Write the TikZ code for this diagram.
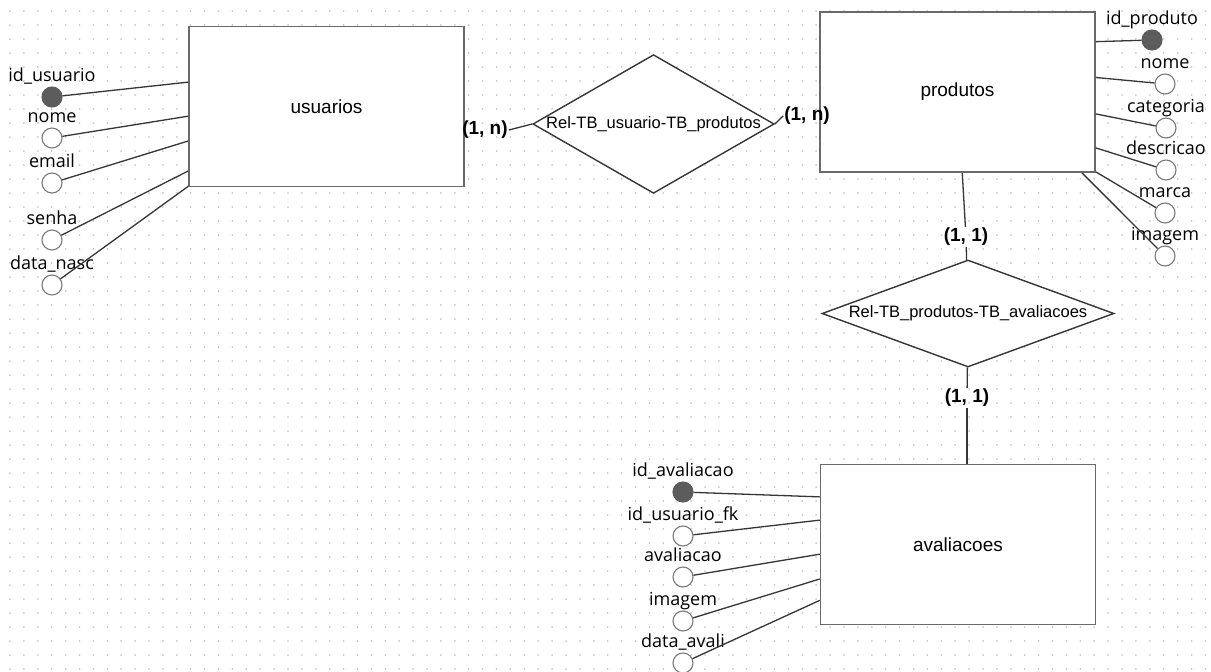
\documentclass[tikz,border=0pt]{standalone}
\usepackage{fontspec}
\setmainfont{Liberation Sans}
\newfontfamily\attrfont{Open Sans}
\usetikzlibrary{shapes.geometric}

\definecolor{boxgray}{HTML}{6A6A6A}
\definecolor{linegray}{HTML}{363636}
\definecolor{circgray}{HTML}{7A7A7A}
\definecolor{keygray}{HTML}{5C5C5C}
\definecolor{dotgray}{HTML}{C8C8C8}

\begin{document}
\begin{tikzpicture}[x=1pt,y=-1pt]
        \tikzstyle{entity} = [draw=boxgray, line width=1.6pt, fill=white, minimum width=275, minimum height=160, inner sep=0, font=\fontsize{19}{22}\selectfont]
        \tikzstyle{relation} = [diamond, draw=linegray, line width=1.4pt, fill=white, inner sep=0, font=\fontsize{16.5}{19}\selectfont]
        \tikzstyle{card} = [inner sep=1, font=\bfseries\fontsize{19}{22}\selectfont]
        \tikzstyle{attr} = [circle, draw=circgray, line width=1.1pt, fill=white, minimum size=20, inner sep=0]
        \tikzstyle{pkattr} = [attr, fill=keygray, draw=keygray]
        \tikzstyle{attrlabel} = [font=\attrfont\fontsize{18}{21}\selectfont, inner sep=0, text height=12, text depth=4, label distance=0.5]
        \tikzstyle{conn} = [draw=linegray, line width=1.3pt]
        \tikzstyle{griddot} = [draw=dotgray, line width=2pt, line cap=round, dash pattern=on 0pt off 13.9pt]

        \useasboundingbox (0,0) rectangle (1211,672);
        \fill[white] (0,0) rectangle (1211,672);
        \foreach \gy in {0,...,47}
            \draw[griddot] (10,11+14*\gy) -- (1211,11+14*\gy);


        \node[entity] (usuarios) at (326.5,106.5){usuarios};
        \node[entity] (produtos) at (957.5,92){produtos};
        \node[entity] (avaliacoes) at (958,544.5){avaliacoes};

        \node[relation, shape aspect=1.74, minimum width=240, minimum height=138] (rel1) at (653.5,124){Rel-TB\_usuario-TB\_produtos};
        \node[relation, shape aspect=2.7, minimum width=292, minimum height=107] (rel2) at (968,313.5){Rel-TB\_produtos-TB\_avaliacoes};

        \node[card] (c1) at (485,130){(1, n)};
        \node[card] (c2) at (807,116){(1, n)};
        \node[card] (c3) at (966,237){(1, 1)};
        \node[card] (c4) at (967,398){(1, 1)};


        \node[pkattr, label={[attrlabel]above:id\_usuario}] (u1) at (52,97){};
        \node[attr, label={[attrlabel]above:nome}] (u2) at (52,138){};
        \node[attr, label={[attrlabel]above:email}] (u3) at (52,183){};
        \node[attr, label={[attrlabel]above:senha}] (u4) at (52,240){};
        \node[attr, label={[attrlabel]above:data\_nasc}] (u5) at (52,285){};

        \node[pkattr, label={[attrlabel]above:id\_produto}] (p1) at (1152,40){};
        \node[attr, label={[attrlabel]above:nome}] (p2) at (1165,84){};
        \node[attr, label={[attrlabel]above:categoria}] (p3) at (1166,128){};
        \node[attr, label={[attrlabel]above:descricao}] (p4) at (1166,170){};
        \node[attr, label={[attrlabel]above:marca}] (p5) at (1165,213){};
        \node[attr, label={[attrlabel]above:imagem}] (p6) at (1165,256){};

        \node[pkattr, label={[attrlabel]above:id\_avaliacao}] (a1) at (683,492){};
        \node[attr, label={[attrlabel]above:id\_usuario\_fk}] (a2) at (683,536){};
        \node[attr, label={[attrlabel]above:avaliacao}] (a3) at (683,577){};
        \node[attr, label={[attrlabel]above:imagem}] (a4) at (683,621){};
        \node[attr, label={[attrlabel]above:data\_avali}] (a5) at (683,663){};


        \draw[conn] (c1.east) edge (rel1.west) (rel1.east) edge (c2.west) (produtos) edge (c3) (c3) edge (rel2) (rel2) edge (c4) (c4.south) edge (c4.south |- avaliacoes.north);

        \draw[conn] (u1) edge (usuarios.170.3) (u2) edge (usuarios.184.4) (u3) edge (usuarios.194.5) (u4) edge (usuarios.205.5) (u5) edge (usuarios.210);
        \draw[conn] (p1) edge (produtos.20.3) (p2) edge (produtos.6.6) (p3) edge (produtos.351.9) (p4) edge (produtos.338.9) (p5) edge (produtos.330) (p6) edge (produtos.327.5);
        \draw[conn] (a1) edge (avaliacoes.161.3) (a2) edge (avaliacoes.170.7) (a3) edge (avaliacoes.184.4) (a4) edge (avaliacoes.194.5) (a5) edge (avaliacoes.202.7);

    \end{tikzpicture}
\end{document}
